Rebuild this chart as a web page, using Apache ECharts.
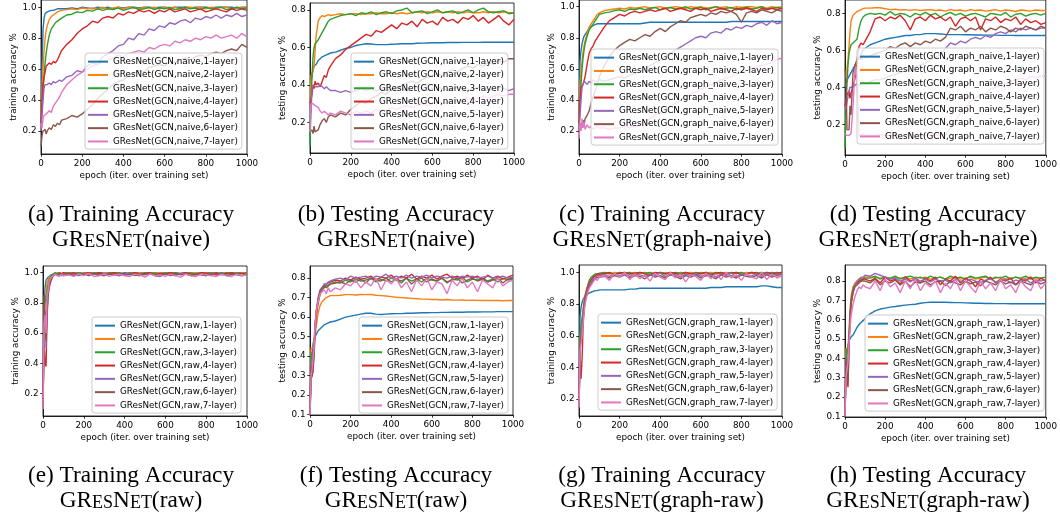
<!DOCTYPE html>
<html><head><meta charset="utf-8">
<script src="https://cdn.jsdelivr.net/npm/echarts@6/dist/echarts.min.js"></script>
<style>html,body{margin:0;padding:0;background:#fff}#c{width:1060px;height:518px}</style>
</head><body><div id="c"></div>
<script>
// shared epoch sample points (x values)
const epochs = [0,5,10,15,20,25,30,40,50,60,70,80,90,100,
  125,150,175,200,225,250,275,300,325,350,375,400,425,450,475,500,525,550,
  575,600,625,650,675,700,725,750,775,800,825,850,875,900,925,950,975,1000];
const xTicks = [0,200,400,600,800,1000];
const yTicksTrain = [0.2,0.4,0.6,0.8,1.0];
const yTicksTest = [0.2,0.4,0.6,0.8];
const yTicksFine = [0.1,0.2,0.3,0.4,0.5,0.6,0.7,0.8];

const layers = [1,2,3,4,5,6,7];
const namesNaive = layers.map(l => 'GResNet(GCN,naive,' + l + '-layer)');
const namesGraphNaive = layers.map(l => 'GResNet(GCN,graph_naive,' + l + '-layer)');
const namesRaw = layers.map(l => 'GResNet(GCN,raw,' + l + '-layer)');
const namesGraphRaw = layers.map(l => 'GResNet(GCN,graph_raw,' + l + '-layer)');

// (a) training accuracy, naive
const a1 = [.30,.62,.86,.93,.96,.97,.97,.975,.98,.98,.985,.99,.99,.99, .99,.995,.99,1,.995,.99, 1,.995,1,.99,1,.995, 1,1,.995,1,1,.995, 1,1,.995,1,1,1, .995,1,1,1,.995,1, 1,1,1,.995,1,1];
const a2 = [.30,.45,.60,.72,.80,.85,.88,.92,.94,.95,.96,.97,.975,.98, .985,.99,.985,.995,.99,.995, .99,1,.99,.995,1,.99, 1,.995,.99,1,.995,1, .99,1,.995,1,.99,1, 1,.995,1,.99,1,.995, 1,1,.99,1,.995,1];
const a3 = [.25,.35,.46,.56,.64,.70,.75,.82,.86,.88,.90,.91,.92,.93, .95,.955,.97,.965,.98,.975, .99,.98,.99,.985,.995,.98, .99,1,.985,.99,1,.985, .995,.99,1,.985,.99,1, .99,.995,.985,1,.99,.995, 1,.985,.99,1,.99,.995];
const a4 = [.25,.40,.50,.55,.58,.62,.63,.64,.63,.65,.64,.66,.69,.72, .76,.79,.83,.86,.88,.91, .90,.93,.94,.93,.96,.95, .97,.96,.98,.97,.98,.96, .98,.97,.99,.97,.98,.99, .97,.98,.99,.97,.98,.99, .98,.97,.99,.98,.99,.98];
const a5 = [.20,.30,.40,.48,.50,.49,.50,.51,.50,.52,.51,.52,.53,.52, .55,.56,.59,.58,.62,.64, .63,.68,.70,.72,.75,.76, .80,.79,.83,.82,.86,.85, .88,.87,.90,.89,.91,.92, .90,.93,.92,.94,.93,.95, .93,.95,.94,.96,.94,.95];
const a6 = [.10,.17,.20,.19,.21,.18,.20,.22,.21,.24,.23,.25,.24,.27, .28,.30,.29,.31,.34,.37, .41,.44,.47,.50,.52,.53, .56,.57,.59,.58,.61,.62, .63,.62,.65,.64,.66,.67, .66,.68,.69,.68,.70,.71, .70,.72,.73,.72,.76,.74];
const a7 = [.25,.22,.28,.30,.29,.31,.30,.33,.32,.36,.38,.40,.42,.45, .50,.53,.56,.58,.60,.62, .63,.65,.66,.67,.69,.68, .70,.71,.72,.71,.74,.73, .75,.76,.75,.78,.77,.79, .78,.80,.79,.81,.80,.82, .80,.81,.82,.80,.83,.81];

// (b) testing accuracy, naive
const b1 = [.10,.40,.46,.48,.50,.51,.51,.53,.54,.55,.555,.56,.565,.57, .575,.585,.595,.60,.61,.615, .62,.618,.615,.615,.615,.617, .618,.62,.62,.62,.622,.623, .624,.625,.625,.625,.626,.626, .626,.627,.627,.627,.627,.628, .628,.628,.628,.628,.628,.628];
const b2 = [.30,.45,.46,.47,.50,.58,.66,.74,.76,.77,.765,.77,.775,.77, .775,.78,.775,.78,.78,.775, .78,.78,.785,.78,.78,.785, .78,.785,.78,.785,.79,.785, .79,.785,.79,.785,.79,.785, .79,.785,.79,.785,.785,.79, .785,.79,.785,.79,.785,.785];
const b3 = [.07,.30,.45,.55,.60,.62,.63,.64,.66,.68,.70,.72,.74,.75, .76,.77,.775,.78,.77,.785, .78,.79,.775,.785,.79,.78, .795,.80,.81,.785,.79,.795, .78,.79,.80,.785,.79,.795, .78,.79,.80,.785,.80,.81, .79,.785,.79,.795,.78,.785];
const b4 = [.30,.32,.35,.40,.38,.42,.40,.41,.39,.42,.45,.44,.48,.50, .54,.56,.59,.61,.63,.65, .67,.66,.69,.68,.70,.72, .70,.73,.72,.74,.71,.75, .73,.74,.72,.76,.74,.75, .73,.76,.75,.77,.74,.76, .73,.75,.77,.74,.72,.75];
const b5 = [.30,.25,.38,.40,.40,.39,.40,.39,.40,.39,.38,.39,.38,.37, .37,.36,.37,.36,.37,.38, .37,.38,.37,.38,.37,.38, .39,.38,.37,.38,.39,.38, .37,.38,.39,.38,.37,.38, .39,.38,.37,.38,.39,.38, .37,.38,.39,.38,.37,.38];
const b6 = [.15,.14,.16,.14,.18,.15,.14,.16,.19,.21,.22,.20,.23,.24, .23,.25,.24,.27,.29,.31, .30,.33,.34,.36,.35,.38, .37,.40,.41,.42,.41,.43, .44,.45,.46,.45,.47,.48, .47,.49,.50,.49,.51,.50, .52,.51,.53,.52,.54,.54];
const b7 = [.15,.30,.31,.30,.31,.29,.30,.28,.26,.25,.26,.25,.24,.25, .24,.26,.25,.24,.26,.25, .26,.25,.27,.26,.27,.28, .27,.28,.29,.28,.29,.30, .29,.30,.31,.30,.31,.32, .31,.32,.33,.32,.33,.34, .33,.34,.35,.34,.35,.35];

// (c) training accuracy, graph-naive
const c1 = [.30,.65,.72,.76,.79,.81,.82,.84,.86,.87,.88,.885,.89,.89, .89,.89,.89,.89,.89,.89, .89,.89,.895,.90,.90,.90, .90,.90,.90,.90,.90,.90, .90,.90,.90,.90,.90,.90, .90,.905,.905,.905,.905,.905, .905,.905,.905,.905,.905,.905];
const c2 = [.25,.50,.58,.65,.71,.75,.78,.83,.87,.89,.91,.93,.95,.96, .975,.98,.985,.99,.985,.995, .99,.995,1,.99,.995,1, .99,.995,1,.995,.99,1, .995,1,.99,.995,1,.995, 1,.99,1,.995,1,1, .995,1,.99,1,.995,1];
const c3 = [.20,.35,.50,.60,.67,.72,.76,.81,.85,.87,.89,.91,.93,.95, .96,.965,.975,.98,.97,.985, .98,.99,.98,.99,.995,.98, .99,.995,.985,.99,1,.985, .99,.995,.98,.99,1,.985, .99,.995,.98,.99,.995,.985, .99,1,.985,.99,.995,.99];
const c4 = [.25,.40,.48,.49,.50,.49,.55,.63,.70,.73,.75,.78,.80,.82, .87,.91,.93,.95,.94,.96, .97,.96,.97,.98,.97,.98, .99,.97,.98,.99,.98,.97, .99,.98,.99,.97,.98,.99, .98,.97,.99,.98,.99,.98, .97,.99,.98,.99,.98,.99];
const c5 = [.20,.30,.40,.48,.50,.52,.51,.50,.52,.51,.53,.52,.52,.53, .52,.53,.54,.55,.54,.56, .57,.58,.60,.62,.64,.66, .68,.70,.72,.74,.76,.78, .80,.81,.80,.83,.84,.83, .86,.85,.87,.86,.88,.87, .89,.90,.88,.91,.89,.90];
const c6 = [.20,.22,.25,.22,.27,.24,.28,.30,.33,.38,.42,.46,.50,.55, .62,.68,.72,.75,.77,.79, .78,.80,.82,.81,.84,.86, .84,.87,.89,.91,.90,.93, .94,.95,.94,.96,.95,.97, .96,.97,.95,.90,.96,.97, .96,.98,.97,.96,.98,.97];
const c7 = [.15,.25,.20,.28,.22,.26,.21,.24,.22,.23,.21,.22,.23,.22, .22,.21,.22,.22,.23,.22, .23,.24,.26,.28,.30,.32, .34,.36,.38,.40,.42,.44, .45,.47,.48,.50,.51,.53, .54,.55,.57,.58,.59,.60, .61,.62,.63,.64,.66,.67];

// (d) testing accuracy, graph-naive
const d1 = [.40,.42,.43,.45,.46,.47,.48,.50,.52,.54,.56,.58,.60,.61, .63,.64,.65,.66,.665,.67, .675,.68,.68,.685,.685,.69, .69,.69,.688,.686,.685,.685, .685,.684,.684,.683,.683,.682, .682,.682,.681,.681,.681,.68, .68,.68,.68,.68,.68,.68];
const d2 = [.45,.47,.50,.55,.62,.70,.76,.79,.80,.81,.815,.82,.825,.828, .828,.83,.83,.825,.82,.822, .818,.82,.816,.82,.815,.818, .82,.815,.818,.812,.82,.815, .818,.812,.82,.815,.818,.812, .815,.82,.812,.818,.815,.81, .818,.815,.812,.818,.815,.815];
const d3 = [.07,.30,.42,.52,.58,.61,.63,.64,.65,.66,.72,.76,.78,.79, .80,.795,.80,.79,.81,.79, .80,.795,.78,.80,.79,.805, .79,.80,.78,.795,.805,.79, .80,.785,.795,.80,.79,.78, .80,.795,.79,.805,.78,.795, .80,.785,.795,.80,.79,.80];
const d4 = [.30,.33,.36,.35,.38,.34,.37,.40,.45,.55,.62,.64,.63,.65, .70,.77,.78,.76,.78,.77, .79,.76,.71,.77,.78,.76, .79,.77,.78,.76,.78,.73, .77,.78,.76,.78,.71,.77, .76,.78,.75,.77,.76,.78, .74,.77,.75,.76,.74,.75];
const d5 = [.30,.28,.32,.35,.38,.40,.41,.40,.41,.42,.41,.42,.43,.42, .43,.44,.44,.45,.46,.47, .48,.49,.50,.51,.52,.53, .55,.56,.58,.61,.64,.63, .65,.64,.66,.67,.66,.68, .67,.69,.70,.69,.71,.70, .72,.71,.72,.71,.72,.72];
const d6 = [.50,.45,.17,.18,.17,.30,.25,.48,.52,.55,.56,.55,.57,.56, .57,.58,.59,.60,.62,.61, .63,.64,.62,.64,.63,.65, .64,.66,.65,.67,.72,.71, .73,.70,.72,.71,.73,.70, .72,.71,.73,.72,.70,.72, .71,.73,.72,.71,.73,.72];
const d7 = [.15,.14,.14,.15,.14,.14,.15,.30,.50,.45,.14,.14,.15,.14, .14,.14,.145,.14,.14,.145, .14,.14,.145,.14,.14,.145, .14,.14,.145,.14,.18,.22, .26,.29,.32,.34,.36,.37, .39,.40,.41,.42,.43,.44, .45,.44,.46,.45,.46,.46];

// (e) training accuracy, raw
const e1 = [.10,.74,.90,.95,.96,.97,.98,.985,.99,.99,.995,.99,.995,.99, 1,.995,1,.99,1,.995, 1,1,.995,1,.99,1, .995,1,1,.995,1,.99, 1,.995,1,1,.995,1, .99,1,.995,1,1,.995, 1,.99,1,.995,1,1];
const e2 = [.10,.50,.80,.88,.93,.95,.97,.98,.99,.99,.995,1,.995,1, .995,1,.99,1,.995,1, .99,1,.995,1,1,.99, 1,.995,1,.99,1,.995, 1,.99,.995,1,.99,1, .995,1,.99,1,.995,1, .99,1,.995,.99,1,.995];
const e3 = [.10,.70,.85,.80,.88,.92,.95,.98,.99,1,.995,1,.99,.995, 1,.99,1,.995,.99,1, .995,.99,1,.995,1,.99, 1,.995,.99,1,.995,1, .99,1,.995,1,.99,.995, 1,.99,1,.995,1,.99, .995,1,.99,1,.995,.99];
const e4 = [.10,.55,.40,.38,.70,.85,.90,.95,.98,.99,.985,.995,.99,1, .99,1,.985,.995,1,.99, 1,.985,.995,1,.99,.995, .985,1,.99,.995,1,.985, .995,.99,1,.985,.995,1, .99,.985,1,.995,.99,1, .985,.995,1,.99,.995,.985];
const e5 = [.10,.60,.75,.50,.80,.88,.93,.97,.98,.99,.985,.99,.98,.99, .985,.99,.98,.995,.985,.99, .98,.995,.99,.985,.98,.99, .995,.98,.99,.985,.995,.98, .975,.99,.985,.98,.995,.99, .98,.985,.99,.98,.995,.985, .99,.98,.985,.99,.98,.99];
const e6 = [.10,.85,.70,.55,.75,.85,.92,.96,.98,.99,.98,.99,.985,.98, .99,.98,.985,.99,.98,.995, .985,.98,.99,.985,.995,.98, .99,.985,.98,.99,.995,.98, .985,.99,.98,.995,.985,.99, .98,.99,.985,.98,.99,.985, .995,.98,.99,.985,.98,.99];
const e7 = [.10,.65,.72,.60,.85,.88,.94,.97,.98,.99,.98,.975,.99,.98, .985,.975,.99,.98,.995,.975, .98,.99,.975,.985,.99,.98, .975,.99,.985,.97,.99,.98, .985,.975,.99,.98,.97,.99, .98,.975,.99,.985,.98,.975, .99,.98,.975,.99,.98,.985];

// (f) testing accuracy, raw
const f1 = [.10,.25,.40,.46,.49,.50,.51,.53,.54,.55,.56,.565,.57,.575, .58,.59,.60,.605,.61,.615, .62,.62,.615,.613,.615,.617, .618,.618,.62,.62,.621,.622, .622,.623,.623,.624,.624,.625, .625,.625,.626,.626,.626,.627, .627,.627,.628,.628,.628,.628];
const f2 = [.10,.44,.45,.44,.45,.50,.55,.62,.66,.68,.69,.70,.705,.71, .71,.712,.715,.715,.713,.716, .715,.716,.712,.71,.708,.705, .702,.70,.698,.696,.694,.692, .692,.69,.69,.688,.69,.688, .687,.688,.686,.687,.686,.685, .686,.685,.685,.684,.685,.685];
const f3 = [.10,.40,.42,.35,.45,.55,.62,.68,.72,.74,.75,.76,.765,.77, .78,.775,.79,.78,.795,.785, .79,.80,.78,.795,.785,.80, .79,.775,.80,.785,.795,.78, .80,.79,.785,.80,.775,.795, .79,.805,.78,.795,.79,.80, .785,.795,.78,.80,.79,.795];
const f4 = [.10,.35,.30,.32,.40,.52,.60,.67,.72,.75,.76,.77,.775,.78, .79,.785,.80,.79,.805,.795, .80,.81,.79,.805,.80,.815, .795,.81,.80,.82,.795,.81, .80,.815,.795,.81,.82,.80, .81,.795,.815,.80,.81,.79, .815,.80,.81,.795,.805,.815];
const f5 = [.10,.32,.38,.40,.48,.56,.63,.69,.73,.75,.77,.77,.78,.785, .795,.80,.79,.81,.80,.805, .81,.795,.81,.805,.82,.80, .81,.80,.815,.80,.81,.805, .815,.80,.81,.805,.80,.81, .80,.81,.805,.81,.80,.805, .81,.80,.805,.81,.80,.805];
const f6 = [.10,.35,.29,.28,.42,.55,.62,.70,.74,.75,.76,.75,.76,.77, .775,.78,.77,.79,.78,.795, .775,.80,.79,.785,.80,.78, .795,.785,.80,.77,.79,.80, .78,.795,.785,.80,.78,.79, .80,.775,.79,.80,.785,.795, .78,.79,.80,.775,.795,.80];
const f7 = [.10,.30,.33,.38,.45,.55,.62,.68,.72,.73,.74,.72,.75,.73, .75,.74,.77,.76,.79,.75, .78,.76,.80,.74,.79,.77, .80,.75,.78,.73,.79,.76, .80,.74,.78,.77,.72,.79, .76,.80,.75,.78,.73,.79, .77,.75,.80,.76,.78,.79];

// (g) training accuracy, graph-raw
const g1 = [.20,.72,.78,.81,.83,.84,.85,.86,.87,.875,.88,.885,.885,.89, .89,.89,.89,.89,.89,.895, .895,.90,.90,.90,.90,.90, .90,.90,.90,.90,.90,.90, .90,.90,.90,.905,.905,.905, .91,.91,.91,.91,.91,.91, .91,.915,.915,.91,.905,.905];
const g2 = [.15,.55,.62,.70,.77,.82,.86,.90,.94,.96,.97,.98,.985,.99, .995,.99,1,.995,1,.99, 1,.995,1,.99,.995,1, .995,1,.99,1,.995,1, .99,1,.995,1,.99,.995, 1,.995,1,.99,1,.995, 1,.99,1,.995,1,.995];
const g3 = [.15,.60,.67,.68,.75,.80,.85,.90,.95,.97,.98,.99,.99,.995, 1,.995,.99,1,.995,1, .99,1,.995,1,.99,1, .995,.99,1,.995,1,.99, 1,.995,1,.99,1,.995, .99,1,.995,1,.99,1, .995,1,.99,1,.995,1];
const g4 = [.15,.45,.33,.45,.65,.78,.84,.90,.93,.95,.97,.98,.99,.99, .99,1,.985,.995,1,.99, .995,1,.99,.985,1,.995, .99,1,.995,.985,1,.99, .995,.99,1,.985,.995,1, .99,.995,1,.985,.99,1, .995,.985,1,.99,.995,1];
const g5 = [.15,.50,.60,.65,.72,.78,.83,.88,.92,.94,.96,.97,.98,.98, .985,.975,.99,.98,.995,.975, .99,.985,.975,.99,.98,.995, .975,.99,.985,.97,.99,.98, .995,.975,.99,.985,.97,.99, .98,.995,.975,.99,.985,.98, .99,.975,.995,.98,.99,.985];
const g6 = [.15,.55,.58,.62,.70,.76,.82,.87,.91,.93,.95,.96,.97,.97, .975,.965,.98,.97,.985,.965, .98,.975,.96,.985,.97,.98, .965,.985,.975,.96,.98,.97, .985,.965,.98,.975,.96,.985, .97,.98,.965,.985,.975,.97, .98,.965,.985,.97,.98,.975];
const g7 = [.15,.50,.55,.60,.68,.74,.80,.86,.90,.92,.94,.96,.95,.97, .98,.95,.995,.97,1,.955, .99,.96,.985,.945,.995,.97, .955,1,.965,.99,.94,.985, .975,.95,.995,.96,.99,.955, 1,.965,.985,.95,.995,.97, .96,1,.955,.99,.965,.98];

// (h) testing accuracy, graph-raw
const h1 = [.10,.30,.44,.47,.49,.50,.51,.52,.54,.56,.575,.585,.595,.605, .63,.645,.655,.66,.665,.668, .672,.675,.678,.68,.685,.688, .69,.69,.691,.69,.689,.688, .688,.687,.686,.685,.685,.684, .684,.683,.683,.683,.682,.682, .682,.682,.682,.682,.682,.682];
const h2 = [.10,.45,.44,.45,.55,.65,.72,.77,.79,.80,.81,.81,.815,.82, .82,.82,.815,.82,.81,.82, .815,.82,.81,.82,.815,.82, .81,.815,.82,.81,.815,.82, .81,.815,.82,.81,.815,.82, .81,.815,.82,.81,.815,.82, .81,.815,.82,.81,.815,.82];
const h3 = [.10,.40,.45,.42,.50,.62,.70,.76,.78,.79,.80,.81,.81,.815, .815,.825,.81,.82,.815,.825, .81,.82,.825,.815,.82,.81, .825,.815,.82,.81,.825,.815, .82,.81,.825,.815,.82,.825, .81,.82,.815,.825,.81,.82, .815,.825,.81,.82,.815,.82];
const h4 = [.10,.38,.30,.25,.45,.60,.68,.75,.78,.79,.80,.80,.81,.81, .80,.815,.79,.82,.80,.81, .785,.82,.80,.81,.79,.815, .80,.82,.78,.81,.80,.825, .79,.815,.80,.77,.81,.80, .82,.79,.81,.80,.815,.78, .81,.80,.82,.79,.815,.80];
const h5 = [.10,.35,.38,.40,.50,.60,.68,.74,.78,.80,.81,.82,.82,.83, .825,.84,.83,.82,.81,.815, .80,.81,.795,.815,.80,.81, .795,.81,.80,.805,.79,.81, .80,.795,.81,.80,.79,.805, .81,.795,.80,.81,.79,.805, .80,.81,.79,.805,.80,.81];
const h6 = [.10,.40,.30,.28,.48,.60,.68,.74,.77,.78,.79,.80,.80,.80, .79,.81,.78,.80,.79,.805, .78,.80,.77,.795,.79,.80, .78,.795,.80,.775,.80,.79, .78,.80,.785,.795,.775,.80, .79,.78,.80,.785,.795,.78, .80,.79,.78,.80,.785,.795];
const h7 = [.10,.30,.35,.38,.48,.55,.62,.68,.72,.75,.77,.76,.78,.77, .76,.80,.75,.81,.77,.79, .74,.80,.76,.81,.75,.79, .77,.80,.74,.79,.76,.81, .75,.80,.77,.74,.80,.76, .79,.75,.81,.76,.78,.74, .80,.77,.75,.81,.76,.79];

const COLORS = ['#1f77b4','#ff7f0e','#2ca02c','#d62728','#9467bd','#8c564b','#e377c2'];
const FONT = 'DejaVu Sans';
const SERIF = '"Liberation Serif", "Times New Roman", serif';

const panels = [
  {box:[41,0,206,154], yr:[0.051,1.047], ticks:yTicksTrain, ylabel:'training accuracy %', names:namesNaive, data:[a1,a2,a3,a4,a5,a6,a7], leg:[85,53], cap:[131,215.2], title:'(a) Training Accuracy', variant:'(naive)'},
  {box:[310,3,204,150], yr:[0.037,0.837], ticks:yTicksTest, ylabel:'testing accuracy %', names:namesNaive, data:[b1,b2,b3,b4,b5,b6,b7], leg:[351,53], cap:[396,215.2], title:'(b) Testing Accuracy', variant:'(naive)'},
  {box:[579,0,203,154], yr:[0.052,1.043], ticks:yTicksTrain, ylabel:'training accuracy %', names:namesGraphNaive, data:[c1,c2,c3,c4,c5,c6,c7], leg:[591,49], cap:[662,215.2], title:'(c) Training Accuracy', variant:'(graph-naive)'},
  {box:[845,0,203,155], yr:[0.034,0.872], ticks:yTicksTest, ylabel:'testing accuracy %', names:namesGraphNaive, data:[d1,d2,d3,d4,d5,d6,d7], leg:[857,48], cap:[928,215.2], title:'(d) Testing Accuracy', variant:'(graph-naive)'},
  {box:[43,266,204,150], yr:[0.053,1.044], ticks:yTicksTrain, ylabel:'training accuracy %', names:namesRaw, data:[e1,e2,e3,e4,e5,e6,e7], leg:[92,317], cap:[131,476.2], title:'(e) Training Accuracy', variant:'(raw)'},
  {box:[310,266,203,149], yr:[0.098,0.862], ticks:yTicksFine, ylabel:'testing accuracy %', names:namesRaw, data:[f1,f2,f3,f4,f5,f6,f7], leg:[359,317], cap:[396,476.2], title:'(f) Testing Accuracy', variant:'(raw)'},
  {box:[579,265,203,151], yr:[0.094,1.047], ticks:yTicksTrain, ylabel:'training accuracy %', names:namesGraphRaw, data:[g1,g2,g3,g4,g5,g6,g7], leg:[598,314], cap:[662,476.2], title:'(g) Training Accuracy', variant:'(graph-raw)'},
  {box:[845,265,204,152], yr:[0.096,0.883], ticks:yTicksFine, ylabel:'testing accuracy %', names:namesGraphRaw, data:[h1,h2,h3,h4,h5,h6,h7], leg:[865,315], cap:[928,476.2], title:'(h) Testing Accuracy', variant:'(graph-raw)'}
];

const grids = [], xAxes = [], yAxes = [], series = [], legends = [], graphics = [];
const tickFont = {fontFamily: FONT, fontSize: 8.8, color: '#000'};
const BIG = '23.3px ' + SERIF, SMALL = '18px ' + SERIF;
panels.forEach((p, i) => {
  grids.push({left: p.box[0], top: p.box[1], width: p.box[2], height: p.box[3], show: true,
    borderColor: '#000', borderWidth: 0.8, backgroundColor: 'rgba(0,0,0,0)', containLabel: false});
  xAxes.push({gridIndex: i, type: 'value', min: 0, max: 1000, interval: 200,
    name: 'epoch (iter. over training set)', nameLocation: 'middle', nameGap: 17,
    nameTextStyle: tickFont,
    axisLine: {show: true, onZero: false, lineStyle: {color: '#000', width: 0.8}},
    axisTick: {show: true, inside: false, length: 2.7, customValues: xTicks, lineStyle: {color: '#000', width: 0.8}},
    axisLabel: Object.assign({margin: 5.5, customValues: xTicks, formatter: v => String(v)}, tickFont),
    splitLine: {show: false}});
  yAxes.push({gridIndex: i, type: 'value', min: p.yr[0], max: p.yr[1],
    name: p.ylabel, nameLocation: 'middle', nameGap: 23, nameRotate: 90,
    nameTextStyle: tickFont,
    axisLine: {show: true, onZero: false, lineStyle: {color: '#000', width: 0.8}},
    axisTick: {show: true, inside: false, length: 2.7, customValues: p.ticks, lineStyle: {color: '#000', width: 0.8}},
    axisLabel: Object.assign({margin: 4.5, customValues: p.ticks, formatter: v => v.toFixed(1)}, tickFont),
    splitLine: {show: false}});
  p.data.forEach((vals, k) => {
    series.push({type: 'line', name: p.names[k], xAxisIndex: i, yAxisIndex: i,
      data: epochs.map((e, j) => [e, vals[j]]),
      showSymbol: false, symbol: 'none', clip: true, silent: true, animation: false,
      lineStyle: {width: 1.4, color: COLORS[k]}, itemStyle: {color: COLORS[k]}, z: 2});
  });
  legends.push({show: true, orient: 'vertical', left: p.leg[0], top: p.leg[1], data: p.names,
    icon: 'rect', itemWidth: 20, itemHeight: 2, itemGap: 0, padding: [2, 4, 1, 3],
    backgroundColor: 'rgba(255,255,255,0.8)', borderColor: '#cccccc', borderWidth: 1, borderRadius: 3,
    selectedMode: false, textStyle: {fontFamily: FONT, fontSize: 8.8, color: '#000', lineHeight: 13.3}, z: 5});
  graphics.push({type: 'text', x: p.cap[0], y: p.cap[1], z: 10,
    style: {text: p.title, font: BIG, fill: '#000', align: 'center', verticalAlign: 'middle',
      textAlign: 'center', textVerticalAlign: 'middle'}});
  graphics.push({type: 'text', x: p.cap[0], y: p.cap[1] + 22.8, z: 10,
    style: {text: '{b|GR}{s|ES}{b|N}{s|ET}{b|' + p.variant + '}', fill: '#000',
      font: BIG, align: 'center', verticalAlign: 'middle', textAlign: 'center', textVerticalAlign: 'middle',
      rich: {
        b: {font: BIG, fill: '#000', lineHeight: 26, verticalAlign: 'bottom'},
        s: {font: SMALL, fill: '#000', lineHeight: 22.8, verticalAlign: 'bottom'}
      }}});
});

const chart = echarts.init(document.getElementById('c'), null, {renderer: 'canvas'});
chart.setOption({
  animation: false,
  backgroundColor: '#fff',
  grid: grids, xAxis: xAxes, yAxis: yAxes, series: series, legend: legends, graphic: graphics
});
</script>
</body></html>
